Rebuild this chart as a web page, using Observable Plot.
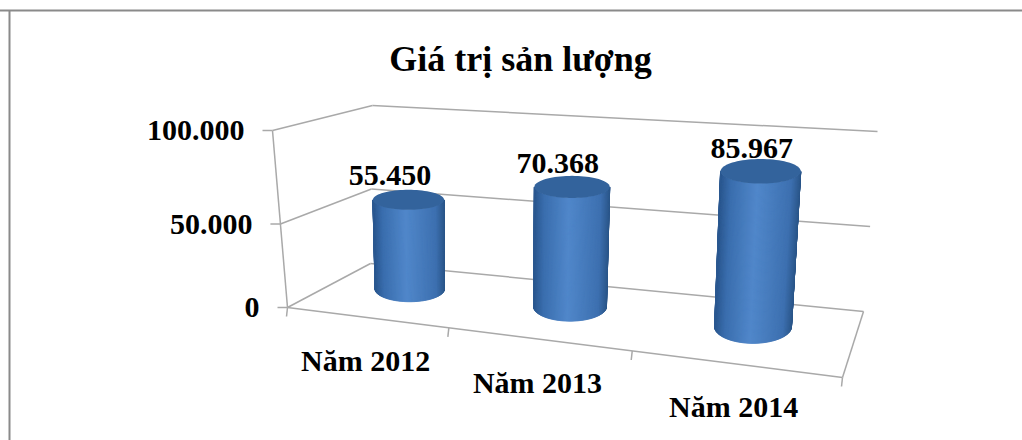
<!DOCTYPE html>
<html lang="vi">
<head>
<meta charset="utf-8">
<style>
  html, body { margin: 0; padding: 0; background: #fff; }
  svg { display: block; }
</style>
<script src="https://cdn.jsdelivr.net/npm/d3@7"></script>
<script src="https://cdn.jsdelivr.net/npm/@observablehq/plot@0.6"></script>
</head>
<body>
<script>
const chartTitle = "Giá trị sản lượng";
const categories = ["Năm 2012", "Năm 2013", "Năm 2014"];
const outputValues = [55450, 70368, 85967];
const outputLabels = ["55.450", "70.368", "85.967"];
const axisTicks = [0, 50000, 100000];
const axisTickLabels = ["0", "50.000", "100.000"];

const width = 1022, height = 440;
const valueMax = 100000;

// Corners of the 3D chart box on screen: floor and the plane at valueMax.
const box = {
  floor: {fl: [287, 307], fr: [842, 377], bl: [370, 263], br: [863, 311]},
  top: {fl: [272, 130], fr: [852, 178], bl: [372, 105], br: [877, 131]}
};
const lerp = (a, b, t) => a + (b - a) * t;
const quad = (q, u, d, i) => lerp(lerp(q.fl[i], q.fr[i], u), lerp(q.bl[i], q.br[i], u), d);

// Foreshortening along the category and value axes.
const catPos = (c) => c / (c + 1.22 * (categories.length - c));
const valPos = (v) => { const t = v / valueMax; return t / (t + 1.12 * (1 - t)); };

// Box coordinates (u across, d into the depth, w up) to screen position.
function project(u, d, w) {
  return [0, 1].map((i) => lerp(quad(box.floor, u, d, i), quad(box.top, u, d, i), w));
}
const at = (c, d, v) => project(catPos(c), d, valPos(v));

// Axis lines, grid and floor outline.
const segment = (a, b) => ({x1: a[0], y1: a[1], x2: b[0], y2: b[1]});
const gridLines = axisTicks.flatMap((v) => [
  segment(at(0, 0, v), at(0, 1, v)),
  segment(at(0, 1, v), at(3, 1, v))
]);
const frameLines = [
  segment(at(0, 0, 0), at(0, 0, valueMax)),
  segment(at(0, 0, 0), at(3, 0, 0)),
  segment(at(3, 0, 0), at(3, 1, 0))
];
const valueTicks = axisTicks.map((v) => {
  const p = at(0, 0, v);
  return segment([p[0] - 10, p[1]], p);
});
const categoryTicks = d3.range(categories.length + 1).map((c) => {
  const p = at(c, 0, 0);
  return segment(p, [p[0] - 1, p[1] + 9]);
});

// Cylinders: depth of their axis, screen radius and share of the floor depth.
const cylDepth = 0.6, radiusPx = 36, radiusD = 0.27;
const shade = d3.scaleLinear()
  .domain([-1, -0.75, -0.1, 0.75, 1])
  .range(["#2b5890", "#3a6eae", "#5087ca", "#3d70b0", "#2a5588"]);

// Point on a cylinder's circular rim at a given value; th = PI/2 faces the viewer.
function rim(c, v, th) {
  const u = catPos(c), w = valPos(v);
  const [cx, cy] = project(u, cylDepth, w);
  const rx = radiusPx * lerp(0.94, 1.1, u) * (1 + 0.05 * w);
  const ry = radiusD * (project(u, 0, w)[1] - project(u, 1, w)[1]);
  return [cx + rx * Math.cos(th), cy + ry * Math.sin(th)];
}
const ellipse = (c, v, key) => d3.range(0, 41).map((i) => {
  const th = (i / 40) * Math.PI;
  const a = rim(c, v, th), b = rim(c, v, -th);
  return {key, x1: a[0], y1: a[1], x2: b[0], y2: b[1]};
});
const caps = outputValues.flatMap((v, i) => ellipse(i + 0.5, v, `cap${i}`));

// The visible side is a fan of narrow strips, each shaded by its position
// across the cylinder (-1 left, +1 right).
const strips = outputValues.flatMap((v, i) => {
  const n = 120, c = i + 0.5;
  return d3.range(n).flatMap((s) => {
    const t0 = (Math.PI * s) / n, t1 = (Math.PI * (s + 1)) / n;
    const fill = shade(Math.cos((t0 + t1) / 2));
    const key = `${i}-${s}`;
    const a0 = rim(c, 0, t0), a1 = rim(c, 0, t1);
    const b0 = rim(c, v, t0), b1 = rim(c, v, t1);
    return [
      {key, fill, x1: a0[0], y1: a0[1], x2: a1[0], y2: a1[1]},
      {key, fill, x1: b0[0], y1: b0[1], x2: b1[0], y2: b1[1]}
    ];
  });
});

// Text anchors derived from the same projection.
const valueLabelRows = axisTicks.map((v, i) => {
  const p = at(0, 0, v);
  return {x: p[0], y: p[1], label: axisTickLabels[i]};
});
const categoryRows = categories.map((name, i) => {
  const p = at(i + 0.5, 0, 0);
  return {x: p[0], y: p[1], label: name};
});
const dataRows = outputValues.map((v, i) => {
  const p = at(i + 0.5, cylDepth - 0.22, v);
  return {x: p[0], y: p[1], label: outputLabels[i]};
});

const lineStyle = {stroke: "#a9a9a9", strokeWidth: 1.5};
const labelStyle = {fontFamily: "Liberation Serif", fontWeight: "bold", fontSize: 30, fill: "#000"};

const chart = Plot.plot({
  width, height,
  margin: 0,
  x: {domain: [0, width], range: [0, width], axis: null},
  y: {domain: [0, height], range: [0, height], axis: null},
  marks: [
    // Outer chart border: only the top and left edges are drawn.
    Plot.ruleY([10], {stroke: "#8a8a8a", strokeWidth: 2}),
    Plot.ruleX([9], {stroke: "#8a8a8a", strokeWidth: 2, y1: 10, y2: height}),
    Plot.text([chartTitle], {
      x: 520, y: 63, text: (d) => d, textAnchor: "middle", lineAnchor: "bottom", dy: 7,
      fontFamily: "Liberation Serif", fontWeight: "bold", fontSize: 36, fill: "#000"
    }),
    Plot.link(gridLines, {x1: "x1", y1: "y1", x2: "x2", y2: "y2", ...lineStyle}),
    Plot.link(frameLines, {x1: "x1", y1: "y1", x2: "x2", y2: "y2", ...lineStyle}),
    Plot.link(valueTicks, {x1: "x1", y1: "y1", x2: "x2", y2: "y2", ...lineStyle}),
    Plot.link(categoryTicks, {x1: "x1", y1: "y1", x2: "x2", y2: "y2", ...lineStyle}),
    Plot.area(strips, {
      x1: "x1", y1: "y1", x2: "x2", y2: "y2", z: "key",
      fill: "fill", stroke: "fill", strokeWidth: 1
    }),
    Plot.area(caps, {x1: "x1", y1: "y1", x2: "x2", y2: "y2", z: "key", fill: "#33639c"}),
    Plot.text(valueLabelRows, {
      x: "x", y: "y", text: "label", textAnchor: "end", dx: -28, dy: 0, lineAnchor: "middle", ...labelStyle
    }),
    Plot.text(categoryRows, {
      x: "x", y: "y", text: "label", textAnchor: "middle", dy: 44, lineAnchor: "middle", ...labelStyle
    }),
    Plot.text(dataRows, {
      x: "x", y: "y", text: "label", textAnchor: "middle", dx: -1, dy: -33, lineAnchor: "middle", ...labelStyle
    })
  ]
});
document.body.appendChild(chart);
</script>
</body>
</html>
